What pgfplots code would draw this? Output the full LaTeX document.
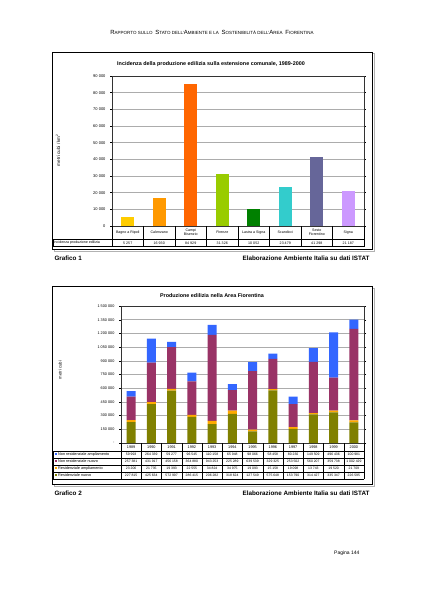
\documentclass[border=0pt]{standalone}
\usepackage{fontspec}
\setmainfont{Liberation Sans}
\usepackage{pgfplots}
\pgfplotsset{compat=1.18}
\definecolor{cA}{HTML}{FFCC00}
\definecolor{cB}{HTML}{FF9900}
\definecolor{cC}{HTML}{FF6600}
\definecolor{cD}{HTML}{99CC00}
\definecolor{cE}{HTML}{008000}
\definecolor{cF}{HTML}{33CCCC}
\definecolor{cG}{HTML}{666699}
\definecolor{cH}{HTML}{CC99FF}
\definecolor{nrA}{HTML}{3366FF}
\definecolor{nrN}{HTML}{993366}
\definecolor{rA}{HTML}{FFAA00}
\definecolor{rN}{HTML}{808000}
\newcommand\SC[2]{{\fontsize{6}{6}\selectfont #1}{\fontsize{4.5}{5}\selectfont #2}}
\newcommand\fs[1]{\fontsize{#1}{#1}\selectfont}
\begin{document}
\begin{tikzpicture}
\path[use as bounding box, fill=white] (0,0) rectangle (424pt,-599pt);
\begin{scope}[x=1pt,y=-1pt]
% header
\node at (212,32) {\SC{R}{APPORTO SULLO} \SC{S}{TATO DELL'}\SC{A}{MBIENTE E LA} \SC{S}{OSTENIBILITÀ DELL'}\SC{A}{REA} \SC{F}{IORENTINA}};
% boxes
\draw[gray!60, line width=1pt] (54,54) rectangle (374,251);
\draw[black, line width=0.8pt, fill=white] (52,52) rectangle (372,249);
\draw[gray!60, line width=1pt] (54,288) rectangle (374,486);
\draw[black, line width=0.8pt, fill=white] (52,286) rectangle (372,484);
\end{scope}

% ---------------- Chart 1
\begin{axis}[at={(112pt,-226pt)}, anchor=south west, scale only axis,
  width=252pt, height=150pt, xmin=-0.5, xmax=7.5, ymin=0, ymax=90000,
  scaled y ticks=false,
  ytick={0,10000,...,90000},
  yticklabels={0,10 000,20 000,30 000,40 000,50 000,60 000,70 000,80 000,90 000},
  xtick=\empty, ybar, bar width=13pt, bar shift=0pt,
  ymajorgrids, grid style={gray!65, line width=0.5pt},
  axis line style={black!80, line width=0.7pt},
  tick style={black, line width=0.4pt}, ytick align=outside, major tick length=2pt,
  yticklabel style={font=\fs{4}, xshift=-1pt}]
\addplot[fill=cA, draw=none] coordinates {(0,5257)};
\addplot[fill=cB, draw=none] coordinates {(1,16930)};
\addplot[fill=cC, draw=none] coordinates {(2,84929)};
\addplot[fill=cD, draw=none] coordinates {(3,31326)};
\addplot[fill=cE, draw=none] coordinates {(4,10052)};
\addplot[fill=cF, draw=none] coordinates {(5,23479)};
\addplot[fill=cG, draw=none] coordinates {(6,41298)};
\addplot[fill=cH, draw=none] coordinates {(7,21187)};
\end{axis}

% ---------------- Chart 2
\begin{axis}[at={(121pt,-443pt)}, anchor=south west, scale only axis,
  width=243pt, height=137pt, xmin=-0.5, xmax=11.5, ymin=0, ymax=1500000,
  scaled y ticks=false,
  ytick={0,150000,...,1500000},
  yticklabels={-,150 000,300 000,450 000,600 000,750 000,900 000,1 050 000,1 200 000,1 350 000,1 500 000},
  xtick=\empty, ybar stacked, bar width=9pt,
  ymajorgrids, grid style={gray!65, line width=0.5pt},
  axis line style={black!80, line width=0.7pt},
  tick style={black, line width=0.4pt}, ytick align=outside, major tick length=2pt,
  yticklabel style={font=\fs{3.8}, xshift=-1pt}]
\addplot[fill=rN, draw=none] coordinates {(0,227815) (1,425634) (2,572997) (3,286415) (4,206282) (5,318624) (6,127549) (7,575648) (8,153790) (9,314427) (10,335347) (11,226595)};
\addplot[fill=rA, draw=none] coordinates {(0,23206) (1,21735) (2,19393) (3,22555) (4,34824) (5,34975) (6,19093) (7,15158) (8,19098) (9,13743) (10,19520) (11,21709)};
\addplot[fill=nrN, draw=none] coordinates {(0,257381) (1,431917) (2,456158) (3,364880) (4,943253) (5,225289) (6,639539) (7,329325) (8,253502) (9,560207) (10,359738) (11,1002429)};
\addplot[fill=nrA, draw=none] coordinates {(0,59993) (1,264339) (2,59277) (3,96545) (4,110158) (5,65948) (6,98066) (7,58458) (8,80230) (9,149509) (10,496436) (11,100981)};
\end{axis}

\begin{scope}[x=1pt,y=-1pt]
% titles
\node[font=\bfseries\fs{5.4}] at (211,64) {Incidenza della produzione edilizia sulla estensione comunale, 1989-2000};
\node[font=\bfseries\fs{5.4}] at (212,296) {Produzione edilizia nella Area Fiorentina};
\node[rotate=90, font=\fs{4.6}] at (58,150) {metri cubi / km\textsuperscript{2}};
\node[rotate=90, font=\fs{4.2}] at (60,370) {metri cubi};
% captions
\node[anchor=west, font=\bfseries\fs{6.3}] at (51,258) {Grafico 1};
\node[anchor=east, font=\bfseries\fs{6.3}] at (373,258) {Elaborazione Ambiente Italia su dati ISTAT};
\node[anchor=west, font=\bfseries\fs{6.3}] at (51,493) {Grafico 2};
\node[anchor=east, font=\bfseries\fs{6.3}] at (373,493) {Elaborazione Ambiente Italia su dati ISTAT};
\node[anchor=east, font=\fs{5}] at (363,553) {Pagina 144};

% table chart 1
\draw[black, line width=0.5pt] (53,239) -- (364,239) (53,246.5) -- (364,246.5) (53,239) -- (53,246.5);
\foreach \i in {0,...,8} \draw[black, line width=0.5pt] ({112+31.5*\i},226) -- ({112+31.5*\i},246.5);
\node[anchor=west, font=\fs{3.6}, inner sep=0.5pt] at (53,242.8) {Incidenza produzione edilizia};
\foreach \n [count=\i from 0] in {Bagno a Ripoli, Calenzano, {Campi\\Bisenzio}, Firenze, Lastra a Signa, Scandicci, {Sesto\\Fiorentino}, Signa}
  \node[font=\fs{3.6}, align=center, inner sep=0pt] at ({127.75+31.5*\i},232.5) {\n};
\foreach \n [count=\i from 0] in {5 257, 16 930, 84 929, 31 326, 10 052, 23 479, 41 298, 21 187}
  \node[font=\fs{3.6}, inner sep=0pt] at ({127.75+31.5*\i},242.8) {\n};

% table chart 2
\foreach \yy in {451,458,465,472,479} \draw[black, line width=0.5pt] (53,\yy) -- (364,\yy);
\draw[black, line width=0.5pt] (53,451) -- (53,479);
\foreach \i in {0,...,12} \draw[black, line width=0.5pt] ({121+20.25*\i},443) -- ({121+20.25*\i},479);
\foreach \n [count=\i from 0] in {1989,1990,1991,1992,1993,1994,1995,1996,1997,1998,1999,2000}
  \node[font=\fs{3.8}, inner sep=0pt] at ({131.125+20.25*\i},447.2) {\n};
\foreach \c/\t [count=\r from 0] in {nrA/Non residenziale ampliamento, nrN/Non residenziale nuovo, rA/Residenziale ampliamento, rN/Residenziale nuovo} {
  \fill[\c] (54.5,{453.3+7*\r}) rectangle (56.5,{455.3+7*\r});
  \node[anchor=west, font=\fs{3.8}, inner sep=0pt] at (58,{454.6+7*\r}) {\t};
}
\foreach \n [count=\i from 0] in {59 993, 264 339, 59 277, 96 545, 110 158, 65 948, 98 066, 58 458, 80 230, 149 509, 496 436, 100 981}
  \node[font=\fs{3.4}, inner sep=0pt] at ({131.125+20.25*\i},454.6) {\n};
\foreach \n [count=\i from 0] in {257 381, 431 917, 456 158, 364 880, 943 253, 225 289, 639 539, 329 325, 253 502, 560 207, 359 738, 1 002 429}
  \node[font=\fs{3.4}, inner sep=0pt] at ({131.125+20.25*\i},461.6) {\n};
\foreach \n [count=\i from 0] in {23 206, 21 735, 19 393, 22 555, 34 824, 34 975, 19 093, 15 158, 19 098, 13 743, 19 520, 21 709}
  \node[font=\fs{3.4}, inner sep=0pt] at ({131.125+20.25*\i},468.6) {\n};
\foreach \n [count=\i from 0] in {227 815, 425 634, 572 997, 286 415, 206 282, 318 624, 127 549, 575 648, 153 790, 314 427, 335 347, 226 595}
  \node[font=\fs{3.4}, inner sep=0pt] at ({131.125+20.25*\i},475.6) {\n};
\end{scope}
\end{tikzpicture}
\end{document}
